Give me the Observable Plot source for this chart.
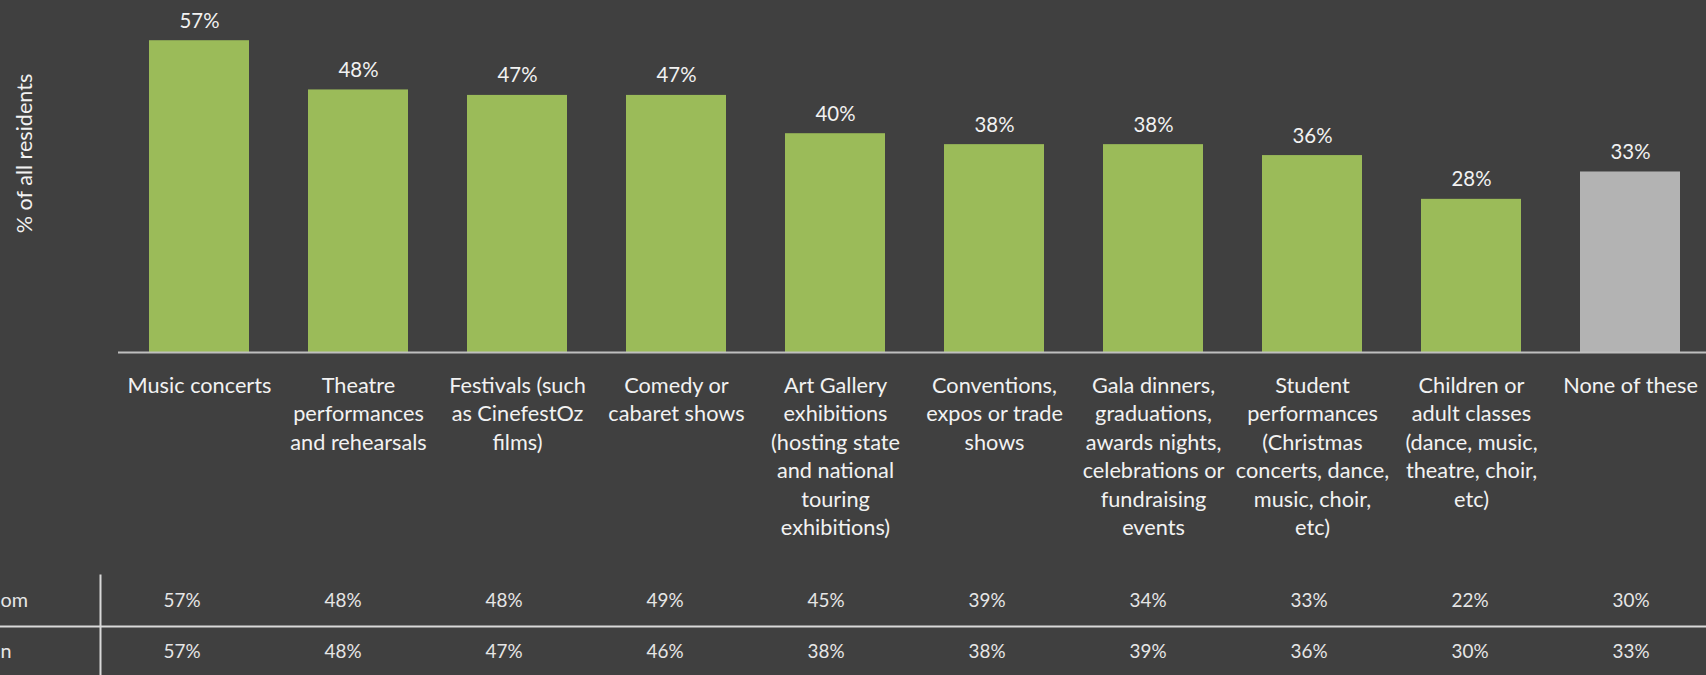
<!DOCTYPE html>
<html>
<head>
<meta charset="utf-8">
<script src="https://cdn.jsdelivr.net/npm/d3@7"></script>
<script src="https://cdn.jsdelivr.net/npm/@observablehq/plot@0.6"></script>
<style>
  html, body { margin: 0; padding: 0; background: #404040; overflow: hidden; }
  #chart svg { display: block; }
</style>
</head>
<body>
<div id="chart"></div>
<script>
// ---- data ----
const categories = [
  "Music concerts",
  "Theatre performances and rehearsals",
  "Festivals (such as CinefestOz films)",
  "Comedy or cabaret shows",
  "Art Gallery exhibitions (hosting state and national touring exhibitions)",
  "Conventions, expos or trade shows",
  "Gala dinners, graduations, awards nights, celebrations or fundraising events",
  "Student performances (Christmas concerts, dance, music, choir, etc)",
  "Children or adult classes (dance, music, theatre, choir, etc)",
  "None of these"
];
const tickLabels = [
  "Music concerts",
  "Theatre\nperformances\nand rehearsals",
  "Festivals (such\nas CinefestOz\nfilms)",
  "Comedy or\ncabaret shows",
  "Art Gallery\nexhibitions\n(hosting state\nand national\ntouring\nexhibitions)",
  "Conventions,\nexpos or trade\nshows",
  "Gala dinners,\ngraduations,\nawards nights,\ncelebrations or\nfundraising\nevents",
  "Student\nperformances\n(Christmas\nconcerts, dance,\nmusic, choir,\netc)",
  "Children or\nadult classes\n(dance, music,\ntheatre, choir,\netc)",
  "None of these"
];
const values = [57, 48, 47, 47, 40, 38, 38, 36, 28, 33];
const noneCategory = "None of these";
const yTitle = "% of all residents";
const rowLabels = ["om", "n"];
const row1Values = [57, 48, 48, 49, 45, 39, 34, 33, 22, 30];
const row2Values = [57, 48, 47, 46, 38, 38, 39, 36, 30, 33];

// ---- styles ----
const FONT = "Lato";
const GREEN = "#9bbb59";
const GRAY = "#b3b3b3";
const TEXT = "#f2f2f2";
const TABLE_TEXT = "#e6e6e6";
const LINE = "#d9d9d9";

const ctx = document.createElement("canvas").getContext("2d");
function fit(text, px) {
  ctx.font = `100px ${FONT}`;
  return 100 * px / ctx.measureText(text).width;
}
const catSize = (fit("Music concerts", 141) + fit("and rehearsals", 138) + fit("concerts, dance,", 155)) / 3;
const barLabelSize = fit("57%", 40);
const tableSize = fit("57%", 37);
const titleSize = fit(yTitle, 160);

const data = categories.map((c, i) => ({category: c, label: tickLabels[i], value: values[i]}));
const tableData = [];
categories.forEach((c, i) => {
  tableData.push({category: c, row: 0, value: row1Values[i]});
  tableData.push({category: c, row: 1, value: row2Values[i]});
});

const chart = Plot.plot({
  width: 1706,
  height: 560,
  marginLeft: 118, marginRight: 0, marginTop: 0, marginBottom: 0,
  style: {background: "transparent", fontFamily: FONT, color: TEXT},
  x: {type: "band", domain: categories, range: [118, 1711], paddingInner: 0.372, paddingOuter: 0.186, axis: null},
  y: {domain: [0, 60], range: [352, 23.8], axis: null},
  marks: [
    Plot.barY(data, {filter: d => d.category !== noneCategory, x: "category", y: "value", fill: GREEN}),
    Plot.barY(data, {filter: d => d.category === noneCategory, x: "category", y: "value", fill: GRAY}),
    Plot.ruleY([0], {stroke: "#bfbfbf", strokeWidth: 2}),
    Plot.text(data, {x: "category", y: "value", text: d => d.value + "%", lineAnchor: "bottom", dy: -13, fontSize: barLabelSize, fill: TEXT}),
    Plot.text(data, {x: "category", y: () => 0, text: "label", lineAnchor: "top", dy: 20, fontSize: catSize, lineHeight: 28.5 / catSize, fill: TEXT}),
    Plot.text([yTitle], {frameAnchor: "top-left", textAnchor: "middle", lineAnchor: "middle", rotate: -90, dx: -93, dy: 153, fontSize: titleSize, fill: TEXT})
  ]
});

const table = Plot.plot({
  width: 1706,
  height: 115,
  marginLeft: 100, marginRight: 0, marginTop: 15, marginBottom: 0,
  style: {background: "transparent", fontFamily: FONT, color: TABLE_TEXT},
  x: {type: "band", domain: categories, range: [100.4, 1712.6], padding: 0, axis: null},
  y: {domain: [-0.5, 1.5], range: [15, 117], axis: null},
  marks: [
    Plot.frame({anchor: "left", stroke: LINE, strokeWidth: 2}),
    Plot.ruleY([0.5], {insetLeft: -100, stroke: LINE, strokeWidth: 2}),
    Plot.text(tableData, {x: "category", y: "row", text: d => d.value + "%", fontSize: tableSize, fill: TABLE_TEXT}),
    Plot.text(rowLabels, {y: (d, i) => i, text: d => d, frameAnchor: "left", textAnchor: "start", dx: -100, fontSize: tableSize * 1.05, fill: TABLE_TEXT})
  ]
});

const el = document.getElementById("chart");
el.appendChild(chart);
el.appendChild(table);
</script>
</body>
</html>
